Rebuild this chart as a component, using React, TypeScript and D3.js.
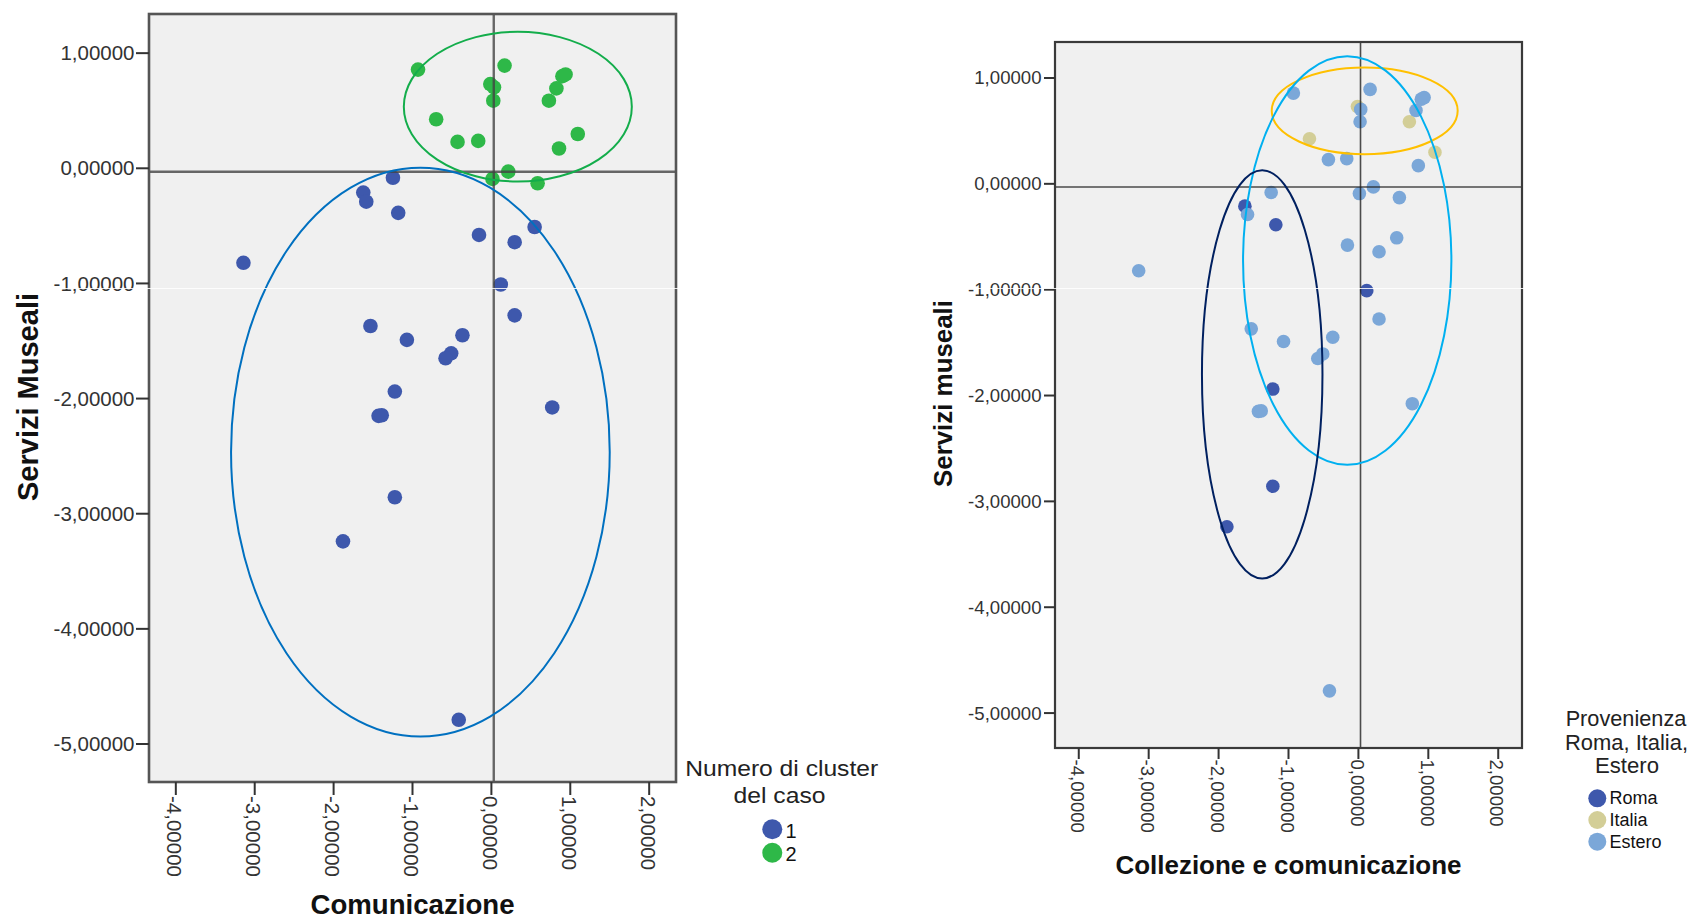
import React from "react";
import * as d3 from "d3";

// ---------------- DATA ----------------
const pointX = [
  -0.93, 0.167, 0.9, 0.94, 0.824, -0.014, 0.033, 0.024, 0.729, -0.7, 1.095, -0.429, -0.167, 0.857, 0.214, 0.014, 0.586,
  -1.248, -1.624, -1.586, -1.181, 0.548, -0.157, 0.295, -3.143, 0.119, 0.295, -1.533, -1.071, -0.367, -0.51, -0.581,
  -1.224, -1.43, -1.39, 0.771, -1.224, -1.881, -0.414,
];
const pointY = [
  0.857, 0.892, 0.8, 0.815, 0.694, 0.731, 0.703, 0.587, 0.587, 0.426, 0.298, 0.229, 0.238, 0.172, -0.029, -0.092, -0.13,
  -0.082, -0.211, -0.29, -0.387, -0.51, -0.579, -0.642, -0.821, -1.009, -1.277, -1.37, -1.49, -1.45, -1.607, -1.65,
  -1.939, -2.15, -2.145, -2.077, -2.857, -3.24, -4.79,
];
const clusterId = [
  2, 2, 2, 2, 2, 2, 2, 2, 2, 2, 2, 2, 2, 2, 2, 2, 2,
  1, 1, 1, 1, 1, 1, 1, 1, 1, 1, 1, 1, 1, 1, 1,
  1, 1, 1, 1, 1, 1, 1,
];
const provenienza = [
  "Estero", "Estero", "Estero", "Estero", "Estero", "Italia", "Estero", "Estero", "Italia", "Italia", "Italia", "Estero", "Estero", "Estero", "Estero", "Estero", "Estero",
  "Estero", "Roma", "Estero", "Roma", "Estero", "Estero", "Estero", "Estero", "Roma", "Estero", "Estero", "Estero", "Estero", "Estero", "Estero",
  "Roma", "Estero", "Estero", "Estero", "Roma", "Roma", "Estero",
];

const clusterCategories = ["1", "2"];
const provCategories = ["Roma", "Italia", "Estero"];

const xTicks = [-4, -3, -2, -1, 0, 1, 2];
const yTicks = [1, 0, -1, -2, -3, -4, -5];
const xDomain = [-4.34, 2.34];
const yDomain = [-5.33, 1.34];
const refX = 0.03;
const refY = -0.03;

// ellipses: [cx, cy, rx, ry] in data units
const leftEllipseGreen = [0.335, 0.535, 1.445, 0.65];
const leftEllipseBlue = [-0.9, -2.465, 2.4, 2.47];
const rightEllipseOrange = [0.09, 0.69, 1.33, 0.41];
const rightEllipseCyan = [-0.16, -0.725, 1.49, 1.93];
const rightEllipseNavy = [-1.376, -1.8, 0.862, 1.928];

// ---------------- STYLE ----------------
const clusterColor = { "1": "#3E58AC", "2": "#2EB848" };
const provColor = { Roma: "#3E58AC", Italia: "#D3CE97", Estero: "#7BA7D8" };
const FONT = "'Liberation Sans', Arial, sans-serif";

const locale = d3.formatLocale({
  decimal: ",",
  thousands: ".",
  grouping: [3],
  currency: ["", ""],
  minus: "-",
});
const fmt = locale.format(".5f");

type Panel = {
  x0: number; x1: number; y0: number; y1: number;
  tickFont: number; yLabelEnd: number; tickLen: number;
  xLabelStart: number; r: number;
  frameColor: string; frameWidth: number; refColor: string; refWidth: number;
};

function ScatterPanel({ p, colors, ellipses }: { p: Panel; colors: string[]; ellipses: { e: number[]; c: string }[] }) {
  const x = d3.scaleLinear().domain(xDomain).range([p.x0, p.x1]);
  const y = d3.scaleLinear().domain(yDomain).range([p.y1, p.y0]);
  const idx = d3.range(pointX.length);
  const order = idx.slice().sort((a, b) => {
    const rank = (i: number) => (colors[i] === provColor.Roma ? 0 : colors[i] === provColor.Italia ? 1 : 2);
    return rank(a) - rank(b);
  });
  return (
    <g>
      <rect x={p.x0} y={p.y0} width={p.x1 - p.x0} height={p.y1 - p.y0} fill="#F0F0F0" />
      {order.map((i) => (
        <circle key={i} cx={x(pointX[i])} cy={y(pointY[i])} r={p.r} fill={colors[i]} />
      ))}
      <line x1={x(refX)} x2={x(refX)} y1={p.y0} y2={p.y1} stroke={p.refColor} strokeWidth={p.refWidth} strokeOpacity={0.8} />
      <line x1={p.x0} x2={p.x1} y1={y(refY)} y2={y(refY)} stroke={p.refColor} strokeWidth={p.refWidth} strokeOpacity={0.8} />
      {ellipses.map(({ e, c }, k) => (
        <ellipse
          key={k}
          cx={x(e[0])}
          cy={y(e[1])}
          rx={Math.abs(x(e[0] + e[2]) - x(e[0]))}
          ry={Math.abs(y(e[1] + e[3]) - y(e[1]))}
          fill="none"
          stroke={c}
          strokeWidth={2}
        />
      ))}
      <rect x={p.x0} y={p.y0} width={p.x1 - p.x0} height={p.y1 - p.y0} fill="none" stroke={p.frameColor} strokeWidth={p.frameWidth} />
      {yTicks.map((t) => (
        <g key={"y" + t}>
          <line x1={p.x0 - p.tickLen} x2={p.x0} y1={y(t)} y2={y(t)} stroke="#333" strokeWidth={2} />
          <text x={p.yLabelEnd} y={y(t)} dy="0.35em" textAnchor="end" fontSize={p.tickFont} fontFamily={FONT} fill="#333">
            {fmt(t)}
          </text>
        </g>
      ))}
      {xTicks.map((t) => (
        <g key={"x" + t}>
          <line x1={x(t)} x2={x(t)} y1={p.y1} y2={p.y1 + p.tickLen} stroke="#333" strokeWidth={2} />
          <text
            transform={`translate(${x(t)},${p.xLabelStart}) rotate(90)`}
            dy="0.42em"
            textAnchor="start"
            fontSize={p.tickFont}
            fontFamily={FONT}
            fill="#333"
          >
            {fmt(t)}
          </text>
        </g>
      ))}
    </g>
  );
}

export default function App() {
  const left: Panel = {
    x0: 149, x1: 676, y0: 14, y1: 782, tickFont: 20.5, yLabelEnd: 134.5, tickLen: 13,
    xLabelStart: 796, r: 7.3, frameColor: "#555", frameWidth: 2.6, refColor: "#444", refWidth: 2.4,
  };
  const right: Panel = {
    x0: 1055, x1: 1522, y0: 42, y1: 748, tickFont: 18.6, yLabelEnd: 1041.5, tickLen: 11,
    xLabelStart: 759.5, r: 6.8, frameColor: "#3a3a3a", frameWidth: 2.2, refColor: "#222", refWidth: 1.6,
  };
  const leftColors = clusterId.map((c) => clusterColor[String(c) as "1" | "2"]);
  const rightColors = provenienza.map((p) => provColor[p as "Roma" | "Italia" | "Estero"]);

  return (
    <svg width={1693} height={919} style={{ position: "absolute", left: 0, top: 0, background: "#fff" }}>
      <rect x={0} y={0} width={1693} height={919} fill="#fff" />
      <ScatterPanel
        p={left}
        colors={leftColors}
        ellipses={[
          { e: leftEllipseGreen, c: "#13AD4B" },
          { e: leftEllipseBlue, c: "#0070C0" },
        ]}
      />
      <ScatterPanel
        p={right}
        colors={rightColors}
        ellipses={[
          { e: rightEllipseOrange, c: "#FFC000" },
          { e: rightEllipseCyan, c: "#00B0F0" },
          { e: rightEllipseNavy, c: "#002060" },
        ]}
      />

      {/* axis titles */}
      <text x={412.5} y={913.5} textAnchor="middle" fontSize={27.5} fontWeight="bold" fontFamily={FONT} fill="#111" textLength={204} lengthAdjust="spacingAndGlyphs">
        Comunicazione
      </text>
      <text transform="translate(37.5,397) rotate(-90)" textAnchor="middle" fontSize={29} fontWeight="bold" fontFamily={FONT} fill="#111" textLength={208} lengthAdjust="spacingAndGlyphs">
        Servizi Museali
      </text>
      <text x={1288.5} y={873.5} textAnchor="middle" fontSize={26} fontWeight="bold" fontFamily={FONT} fill="#111" textLength={346} lengthAdjust="spacingAndGlyphs">
        Collezione e comunicazione
      </text>
      <text transform="translate(951.5,393.5) rotate(-90)" textAnchor="middle" fontSize={26} fontWeight="bold" fontFamily={FONT} fill="#111" textLength={187} lengthAdjust="spacingAndGlyphs">
        Servizi museali
      </text>

      {/* left legend */}
      <text x={781.7} y={776} textAnchor="middle" fontSize={21.5} fontFamily={FONT} fill="#222" textLength={193} lengthAdjust="spacingAndGlyphs">
        Numero di cluster
      </text>
      <text x={779.5} y={803.3} textAnchor="middle" fontSize={21.5} fontFamily={FONT} fill="#222" textLength={92} lengthAdjust="spacingAndGlyphs">
        del caso
      </text>
      {clusterCategories.map((c, i) => (
        <g key={c}>
          <circle cx={772.3} cy={829.3 + i * 23.4} r={10} fill={clusterColor[c as "1" | "2"]} />
          <text x={785.5} y={837.7 + i * 23} fontSize={20} fontFamily={FONT} fill="#111">
            {c}
          </text>
        </g>
      ))}

      {/* right legend */}
      <text x={1626} y={726} textAnchor="middle" fontSize={21.5} fontFamily={FONT} fill="#222" textLength={120.7} lengthAdjust="spacingAndGlyphs">
        Provenienza
      </text>
      <text x={1626.5} y={749.5} textAnchor="middle" fontSize={21.5} fontFamily={FONT} fill="#222" textLength={123} lengthAdjust="spacingAndGlyphs">
        Roma, Italia,
      </text>
      <text x={1627} y={773.3} textAnchor="middle" fontSize={21.5} fontFamily={FONT} fill="#222" textLength={64} lengthAdjust="spacingAndGlyphs">
        Estero
      </text>
      {provCategories.map((c, i) => (
        <g key={c}>
          <circle cx={1597.3} cy={798.3 + i * 21.7} r={9} fill={provColor[c as "Roma" | "Italia" | "Estero"]} />
          <text x={1609.5} y={804.3 + i * 21.7} fontSize={18} fontFamily={FONT} fill="#111">
            {c}
          </text>
        </g>
      ))}

      {/* faint white scan artifact across the picture */}
      <line x1={50} x2={1693} y1={288.5} y2={288.5} stroke="#fff" strokeWidth={1} strokeOpacity={0.85} />
    </svg>
  );
}
